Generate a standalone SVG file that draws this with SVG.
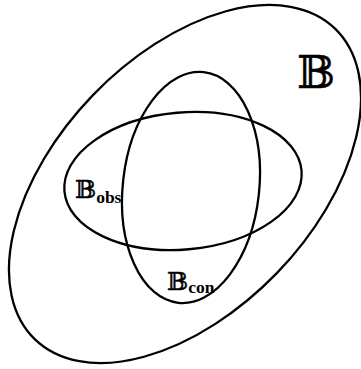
<svg xmlns="http://www.w3.org/2000/svg" width="361" height="369" viewBox="0 0 361 369">
<style>
.e{fill:none;stroke:#000;stroke-width:2.3}
.bb{font-family:"DejaVu Serif","DejaVu Sans",serif;fill:#000;stroke:#000;stroke-width:0.5}
.sub{font-family:"Liberation Serif",serif;font-weight:bold;fill:#000}
</style>
<rect width="361" height="369" fill="#fff"/>
<g id="B">
<ellipse class="e" cx="185" cy="184" rx="216" ry="128" transform="rotate(-46 185 184)"/>
<text class="bb" x="297" y="88" font-size="45">𝔹</text>
</g>
<g id="Bobs">
<ellipse class="e" cx="183" cy="181" rx="119" ry="68.5" transform="rotate(-5 183 181)"/>
<text x="75" y="198"><tspan class="bb" font-size="25">𝔹</tspan><tspan class="sub" font-size="17.5" dy="5">obs</tspan></text>
</g>
<g id="Bcon">
<ellipse class="e" cx="191" cy="187.5" rx="68.2" ry="116" transform="rotate(6.3 191 187.5)"/>
<text x="167" y="290"><tspan class="bb" font-size="25">𝔹</tspan><tspan class="sub" font-size="17.5" dy="3">con</tspan></text>
</g>
<g id="connectors"/>
</svg>
